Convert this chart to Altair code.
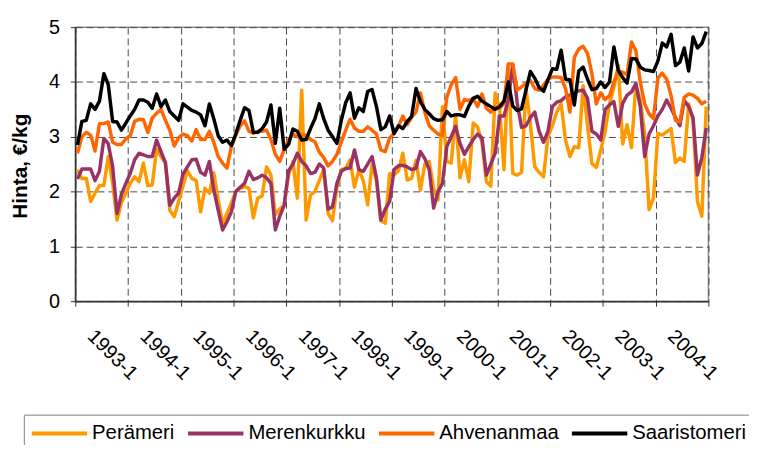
import altair as alt
import pandas as pd

# ---- data -------------------------------------------------------------
series_names = ["Perämeri", "Merenkurkku", "Ahvenanmaa", "Saaristomeri"]
series_colors = ["#FF9900", "#993366", "#FF6600", "#000000"]
year_labels = ["1993-1", "1994-1", "1995-1", "1996-1", "1997-1", "1998-1",
               "1999-1", "2000-1", "2001-1", "2002-1", "2003-1", "2004-1"]
y_ticks = [0, 1, 2, 3, 4, 5]

# monthly prices, 1993-1 ... 2004-12 (one row of 12 per year)
perameri = [
    2.40, 2.24, 2.24, 1.82, 1.97, 2.11, 2.11, 2.64, 2.15, 1.48, 1.80, 1.97,
    2.15, 2.27, 2.18, 2.52, 2.11, 2.12, 2.77, 2.64, 2.52, 1.66, 1.54, 1.82,
    2.10, 2.38, 2.24, 2.20, 1.63, 2.06, 1.97, 2.34, 1.85, 1.42, 1.60, 1.79,
    2.00, 2.06, 2.09, 2.06, 1.52, 1.88, 1.92, 2.45, 2.30, 1.58, 1.68, 1.75,
    2.30, 2.55, 1.88, 3.85, 1.48, 1.94, 2.00, 2.20, 2.40, 1.60, 1.47, 2.08,
    2.40, 2.42, 2.58, 2.08, 2.40, 2.20, 1.76, 2.50, 2.20, 1.47, 1.42, 2.33,
    2.30, 2.38, 2.70, 2.21, 2.24, 2.57, 2.03, 2.50, 2.55, 2.06, 1.85, 3.55,
    2.55, 2.52, 3.40, 2.25, 2.58, 2.18, 3.25, 3.18, 2.90, 2.18, 2.10, 3.80,
    3.52, 2.40, 4.33, 2.33, 2.30, 2.35, 3.88, 3.24, 2.45, 2.35, 2.27, 3.00,
    3.20, 3.45, 3.60, 2.94, 2.64, 2.82, 2.80, 3.93, 3.20, 2.51, 2.44, 2.75,
    3.10, 3.60, 3.90, 4.30, 2.87, 3.22, 2.80, 3.95, 3.67, 3.05, 1.67, 1.88,
    3.06, 3.03, 3.09, 3.15, 2.53, 2.61, 2.55, 3.60, 3.30, 1.82, 1.55, 3.55,
]
merenkurkku = [
    2.23, 2.41, 2.41, 2.41, 2.20, 2.37, 2.97, 2.87, 2.46, 1.60, 1.95, 2.15,
    2.33, 2.58, 2.70, 2.67, 2.64, 2.64, 2.94, 2.73, 2.53, 1.75, 1.88, 1.97,
    2.32, 2.45, 2.58, 2.59, 2.35, 2.30, 2.55, 2.03, 1.66, 1.30, 1.45, 1.63,
    2.00, 2.08, 2.15, 2.37, 2.22, 2.25, 2.30, 2.25, 2.15, 1.30, 1.55, 1.75,
    2.38, 2.50, 2.70, 2.55, 2.47, 2.33, 2.35, 2.50, 2.43, 1.68, 1.72, 2.15,
    2.37, 2.42, 2.43, 2.76, 2.40, 2.37, 2.50, 2.64, 2.25, 1.48, 1.68, 1.82,
    2.40, 2.47, 2.48, 2.45, 2.40, 2.43, 2.73, 2.60, 2.40, 1.70, 2.00, 2.15,
    2.82, 3.00, 3.19, 2.88, 2.68, 2.82, 2.95, 3.05, 2.98, 2.30, 2.50, 2.70,
    3.38, 3.38, 3.68, 4.32, 3.62, 3.17, 3.20, 3.35, 3.45, 3.10, 2.90, 3.10,
    3.55, 3.63, 3.66, 3.73, 3.76, 3.80, 3.84, 3.85, 3.70, 3.10, 3.05, 2.94,
    3.50, 3.58, 3.64, 3.19, 3.61, 3.76, 3.82, 3.97, 3.55, 2.64, 3.05, 3.20,
    3.38, 3.50, 3.67, 3.52, 3.35, 3.20, 3.66, 3.55, 3.35, 2.30, 2.62, 3.16,
]
ahvenanmaa = [
    2.70, 3.00, 3.08, 3.03, 2.74, 3.24, 3.24, 3.27, 2.90, 2.86, 2.86, 2.96,
    3.02, 3.28, 3.32, 3.31, 3.08, 3.34, 3.43, 3.50, 3.30, 3.12, 2.83, 2.98,
    3.05, 3.02, 2.92, 3.13, 2.95, 2.95, 3.10, 2.90, 2.64, 2.52, 2.43, 2.82,
    3.03, 3.20, 3.29, 3.10, 3.06, 3.10, 3.10, 3.12, 2.95, 2.68, 2.55, 2.76,
    2.94, 3.05, 3.00, 3.03, 3.03, 2.95, 2.91, 2.72, 2.62, 2.47, 2.55, 2.68,
    2.90, 3.12, 3.32, 3.16, 3.10, 3.10, 3.18, 3.12, 3.05, 2.76, 2.73, 2.98,
    3.06, 3.19, 3.38, 3.22, 3.36, 3.45, 3.80, 3.45, 3.20, 3.12, 3.05, 3.02,
    3.72, 3.95, 4.08, 3.50, 3.68, 3.66, 3.70, 3.55, 3.78, 3.52, 3.45, 3.55,
    3.52, 3.60, 4.33, 4.33, 3.85, 3.91, 3.97, 4.03, 3.88, 3.85, 3.94, 4.05,
    4.09, 4.09, 4.08, 3.88, 3.45, 4.45, 4.60, 4.65, 4.52, 4.15, 3.60, 3.80,
    3.68, 3.75, 4.00, 4.20, 4.18, 4.13, 4.73, 4.57, 4.00, 3.60, 3.42, 3.33,
    4.07, 4.16, 4.05, 3.75, 3.30, 3.27, 3.72, 3.78, 3.76, 3.70, 3.60, 3.65,
]
saaristomeri = [
    2.85, 3.28, 3.30, 3.60, 3.50, 3.65, 4.15, 3.95, 3.28, 3.27, 3.12, 3.25,
    3.38, 3.50, 3.67, 3.67, 3.63, 3.52, 3.78, 3.55, 3.67, 3.46, 3.38, 3.30,
    3.60, 3.54, 3.48, 3.45, 3.40, 3.20, 3.60, 3.33, 3.02, 2.90, 2.94, 2.84,
    3.05, 3.30, 3.53, 3.48, 3.08, 3.08, 3.15, 3.27, 3.58, 2.88, 3.52, 2.77,
    2.86, 3.14, 3.10, 2.94, 2.95, 3.15, 3.33, 3.60, 3.33, 3.12, 3.00, 2.88,
    3.30, 3.62, 3.80, 3.34, 3.53, 3.46, 3.83, 3.86, 3.55, 3.13, 3.18, 3.38,
    3.06, 3.20, 3.15, 3.28, 3.37, 3.88, 3.64, 3.50, 3.42, 3.33, 3.30, 3.31,
    3.46, 3.38, 3.40, 3.40, 3.37, 3.56, 3.70, 3.74, 3.65, 3.60, 3.55, 3.50,
    3.55, 3.65, 4.00, 3.56, 3.48, 3.51, 3.85, 4.19, 4.07, 3.90, 3.83, 4.04,
    4.24, 4.23, 4.58, 4.05, 4.04, 3.58, 4.20, 4.27, 4.05, 3.86, 3.88, 4.00,
    3.90, 4.00, 4.64, 4.21, 4.08, 3.98, 4.43, 4.42, 4.27, 4.22, 4.21, 4.19,
    4.38, 4.71, 4.64, 4.87, 4.30, 4.36, 4.62, 4.20, 4.82, 4.62, 4.70, 4.92,
]

series_values = {
    "Perämeri": perameri,
    "Merenkurkku": merenkurkku,
    "Ahvenanmaa": ahvenanmaa,
    "Saaristomeri": saaristomeri,
}

rows = []
for name in series_names:
    for i, v in enumerate(series_values[name]):
        # month i sits in the middle of its category slot
        rows.append({"kk": i + 0.5, "sarja": name, "hinta": v})
df = pd.DataFrame(rows)

n_months = 12 * len(year_labels)
label_array = "[" + ",".join("'" + s + "'" for s in year_labels) + "]"
label_expr = ("(datum.value < %d) ? %s[round(datum.value / 12)] : ''"
              % (n_months, label_array))

FONT = "Liberation Sans"
GRID = "#4a4a4a"
AXIS = "#333333"

x_axis = alt.Axis(
    values=list(range(0, n_months + 1, 12)),
    labelExpr=label_expr,
    labelAngle=45, labelAlign="left", labelBaseline="middle",
    labelOffset=15, labelPadding=27, labelFontSize=20, labelColor="black",
    labelFlush=False, labelOverlap=False, labelBound=False,
    tickSize=5, tickColor=AXIS, domainColor=AXIS, domainWidth=1.5,
    grid=True, gridColor=GRID, gridDash=[7, 4], gridWidth=1,
    title=None,
)
y_axis = alt.Axis(
    values=y_ticks, format="d",
    labelFontSize=20, labelPadding=11, labelColor="black",
    tickSize=5, tickColor=AXIS, domainColor=AXIS, domainWidth=1.5,
    grid=True, gridColor=GRID, gridDash=[7, 4], gridWidth=1,
    title="Hinta, €/kg", titleFontSize=21, titleFontWeight="bold",
    titleColor="black", titleAngle=270, titleAlign="center",
    titleBaseline="middle", titleX=-55, titleY=140,
)
legend = alt.Legend(
    orient="none", legendX=-52, legendY=391.7, direction="horizontal",
    columns=4, symbolType="stroke", symbolSize=3136, symbolStrokeWidth=4,
    clipHeight=26, labelFontSize=20.5, labelColor="black", labelFont=FONT,
    labelOffset=3, columnPadding=11, padding=6, labelLimit=300,
    strokeColor="#808080", fillColor="white",
)

base = alt.Chart(df).mark_line(strokeWidth=3.5, strokeJoin="round").encode(
    x=alt.X("kk:Q", scale=alt.Scale(domain=[0, n_months], nice=False, zero=False),
            axis=x_axis),
    y=alt.Y("hinta:Q", scale=alt.Scale(domain=[0, 5], nice=False), axis=y_axis),
    color=alt.Color("sarja:N", title=None,
                    scale=alt.Scale(domain=series_names, range=series_colors),
                    legend=legend),
)

layers = [base.transform_filter(alt.datum.sarja == name) for name in series_names]

chart = (
    alt.layer(*layers)
    .properties(
        width=640, height=277,
        autosize=alt.AutoSizeParams(type="none"),
        padding={"left": 68, "top": 17, "right": 41, "bottom": 143},
    )
    .configure(font=FONT)
    .configure_view(stroke="#8c8c8c", strokeWidth=1.5)
)

chart.save("out.html", embed_options={"renderer": "svg", "actions": False})
